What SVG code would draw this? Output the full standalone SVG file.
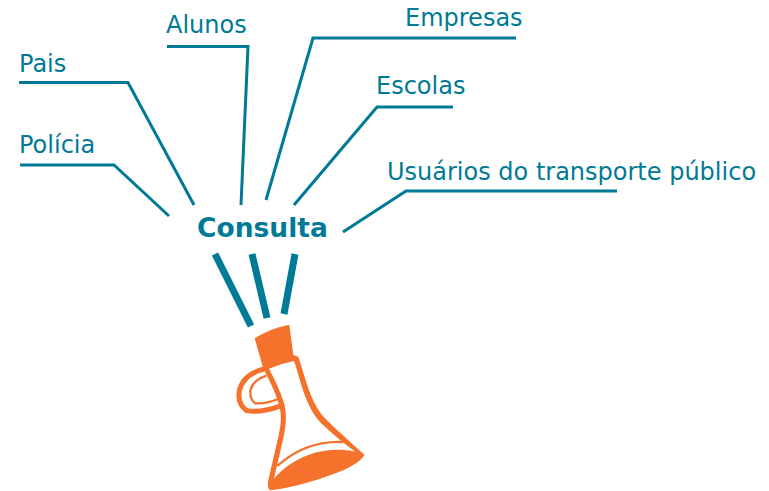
<svg xmlns="http://www.w3.org/2000/svg" width="769" height="491" viewBox="0 0 769 491">
<style>
.l{font-family:"DejaVu Sans",Verdana,sans-serif;font-size:24px;fill:#007a96}
.c{fill:none;stroke:#007a96;stroke-width:3}
.b{fill:none;stroke:#007a96;stroke-width:7}
</style>
<rect width="769" height="491" fill="#fff"/>
<g id="connectors">
<path class="c" d="M20,165H114L169,216"/>
<path class="c" d="M19,82.500H128L194,205"/>
<path class="c" d="M167,46.500H248L241,205"/>
<path class="c" d="M516,38H313L266,200"/>
<path class="c" d="M453,107H377L294,205"/>
<path class="c" d="M617,191H406L343,232"/>
<path class="b" d="M215,254L251,326"/>
<path class="b" d="M252,254L267,318"/>
<path class="b" d="M295,254L284,314"/>
</g>
<g id="n-policia"><text class="l" x="19" y="153">Polícia</text></g>
<g id="n-pais"><text class="l" x="19" y="72">Pais</text></g>
<g id="n-alunos"><text class="l" x="166" y="33">Alunos</text></g>
<g id="n-empresas"><text class="l" x="405" y="26">Empresas</text></g>
<g id="n-escolas"><text class="l" x="376" y="94">Escolas</text></g>
<g id="n-usuarios"><text class="l" x="387" y="180">Usuários do transporte público</text></g>
<g id="n-consulta"><text x="197" y="237" style="font-family:'DejaVu Sans',Verdana,sans-serif;font-size:26.500px;font-weight:700;fill:#007a96">Consulta</text></g>
<g id="megaphone" transform="translate(200 310) scale(.3333)">
<path d="M192,177C150,188 125,212 118,242C114,268 122,290 140,302C175,308 210,300 244,287" fill="none" stroke="#f4722b" stroke-width="15"/>
<path d="M199,197C170,207 155,222 151,242C150,258 154,272 166,280C190,282 212,276 234,267" fill="none" stroke="#f4722b" stroke-width="7"/>
<path fill="#f4722b" d="M164,85Q210,55 268,44L280,135L295,140C305,170 312,195 320,220C335,265 350,300 378,328C415,365 455,400 494,435C480,458 440,478 400,492C340,515 275,533 212,541C203,538 203,525 205,510L235,380C245,340 245,310 236,280C225,243 208,210 190,176Z"/>
<path fill="#fff" d="M207,176Q245,160 282,153C290,175 296,198 303,222C318,270 335,310 362,338C395,370 430,398 466,425C370,405 280,440 222,506L250,385C260,340 260,310 252,278C240,240 225,210 207,176Z"/>
<path fill="none" stroke="#f4722b" stroke-width="7" d="M232,468C285,420 350,392 430,396"/>
</g>
</svg>
